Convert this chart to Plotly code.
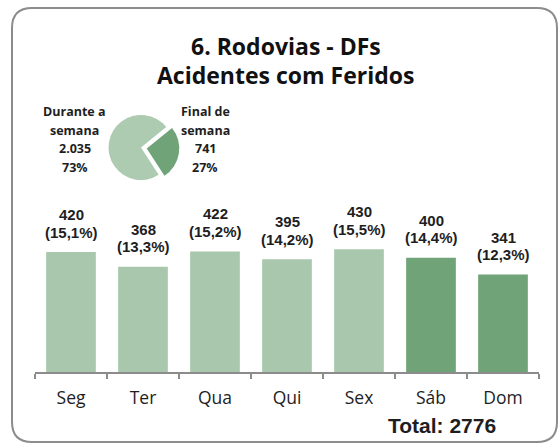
import plotly.graph_objects as go

# ---- data ----
days = ["Seg", "Ter", "Qua", "Qui", "Sex", "Sáb", "Dom"]
accidents = [420, 368, 422, 395, 430, 400, 341]
weekend = [False, False, False, False, False, True, True]
pie_labels = ["Final de semana", "Durante a semana"]
pie_label_lines = [["Final de", "semana"], ["Durante a", "semana"]]
pie_values = [741, 2035]
total = sum(accidents)

# ---- styling ----
W, H = 559, 445
ML, MR, MT, MB = 35, 20, 5, 73
PW, PH = W - ML - MR, H - MT - MB
LIGHT = "#A9C7AD"
DARK = "#70A377"
CAL = "Open Sans, Lato, sans-serif"
ARI = "Liberation Sans, Arial, sans-serif"
TXT = "#1e1e1e"

def px(x):
    return (x - ML) / PW

def py(y):
    return (H - MB - y) / PH

YMAX = 500
bar_h = YMAX * 0.2857
ydom_top = bar_h / PH

def pt_fmt(v):
    return f"{v:,}".replace(",", ".")

def pct_fmt(v, d=1):
    return f"{v / total * 100:.{d}f}".replace(".", ",") + "%"

fig = go.Figure()
fig.add_trace(go.Bar(
    x=days, y=accidents,
    marker=dict(color=[DARK if w else LIGHT for w in weekend], line=dict(width=0)),
    hoverinfo="skip", showlegend=False,
))

# pie
pcx, pcy, pr, pull = 141, 147.5, 32.5, 0.18
half = pr * (1 + pull)
fig.add_trace(go.Pie(
    labels=pie_labels, values=pie_values, sort=False, direction="clockwise",
    rotation=51, pull=[pull, 0], textinfo="none", hoverinfo="skip",
    marker=dict(colors=[DARK, "#ADCBB0"], line=dict(width=0)),
    domain=dict(x=[px(pcx - half), px(pcx + half)], y=[py(pcy + half), py(pcy - half)]),
    showlegend=False,
))

ann = []
# bar labels
for d, v in zip(days, accidents):
    ann.append(dict(x=d, y=v, xref="x", yref="y", text=str(v), showarrow=False,
                    yanchor="middle", yshift=37.5,
                    font=dict(family=ARI, size=15, color=TXT, weight="bold")))
    ann.append(dict(x=d, y=v, xref="x", yref="y", text=f"({pct_fmt(v)})", showarrow=False,
                    yanchor="middle", yshift=20,
                    font=dict(family=ARI, size=15, color=TXT, weight="bold")))

# titles
for t, yy in [("6. Rodovias - DFs", 46), ("Acidentes com Feridos", 75)]:
    ann.append(dict(x=px(285.5), y=py(yy), xref="paper", yref="paper", text=t,
                    showarrow=False, xanchor="center", yanchor="middle",
                    font=dict(family=CAL, size=23, color="#111", weight="bold")))

# pie labels
pie_x = [205, 74.5]
for i in range(2):
    lines = pie_label_lines[i] + [pt_fmt(pie_values[i]),
                                  f"{round(pie_values[i] / total * 100)}%"]
    for line, yy in zip(lines, [112, 130, 148.5, 167]):
        ann.append(dict(x=px(pie_x[i]), y=py(yy), xref="paper", yref="paper", text=line,
                        showarrow=False, xanchor="center", yanchor="middle",
                        font=dict(family=CAL, size=12.5, color=TXT, weight="bold")))

# total
ann.append(dict(x=px(441.5), y=py(425), xref="paper", yref="paper", text=f"Total: {total}",
                showarrow=False, xanchor="center", yanchor="middle",
                font=dict(family=ARI, size=21, color=TXT, weight="bold")))

# rounded border
L, T, R, B, r = 12, 8, 557, 442, 20
path = (f"M {px(L + r)},{py(T)} L {px(R - r)},{py(T)} Q {px(R)},{py(T)} {px(R)},{py(T + r)} "
        f"L {px(R)},{py(B - r)} Q {px(R)},{py(B)} {px(R - r)},{py(B)} "
        f"L {px(L + r)},{py(B)} Q {px(L)},{py(B)} {px(L)},{py(B - r)} "
        f"L {px(L)},{py(T + r)} Q {px(L)},{py(T)} {px(L + r)},{py(T)} Z")

fig.update_layout(
    width=W, height=H,
    margin=dict(l=ML, r=MR, t=MT, b=MB),
    paper_bgcolor="white", plot_bgcolor="white",
    bargap=0.31,
    annotations=ann,
    shapes=[dict(type="path", path=path, xref="paper", yref="paper",
                 line=dict(color="#8c8c8c", width=2), fillcolor="rgba(0,0,0,0)")],
    xaxis=dict(showline=True, linecolor="#8c8c8c", linewidth=1.5,
               ticks="outside", tickson="boundaries", ticklen=5, tickcolor="#8c8c8c",
               tickwidth=1.5, tickfont=dict(family=CAL, size=17.5, color=TXT),
               ticklabelstandoff=9,
               showgrid=False, zeroline=False, fixedrange=True),
    yaxis=dict(range=[0, YMAX], domain=[0, ydom_top], visible=False, showgrid=False,
               zeroline=False, fixedrange=True),
)

fig.write_html("out.html", config={"displayModeBar": False},
               post_script="document.body.style.margin='0';document.body.style.overflow='hidden';")
